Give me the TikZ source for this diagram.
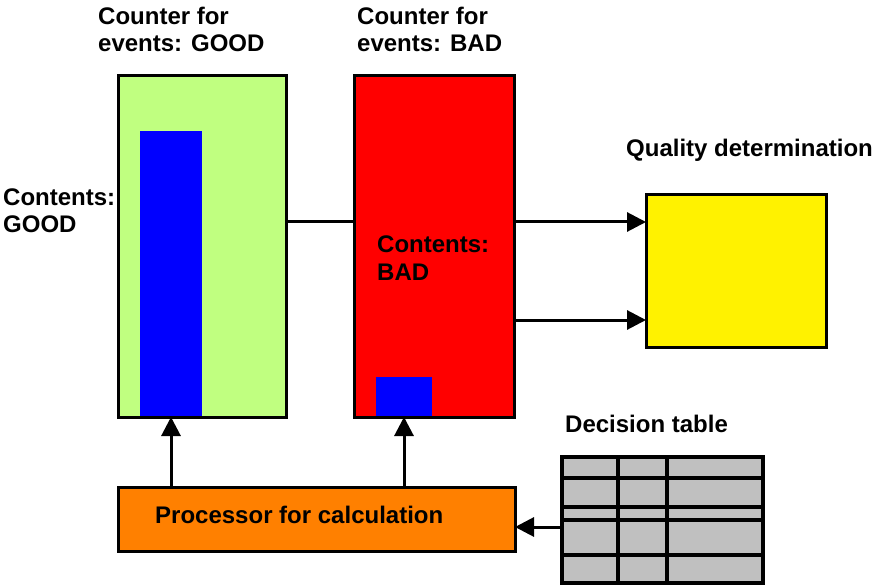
\documentclass[tikz,border=0pt]{standalone}
\usepackage{fontspec}
\setmainfont{Liberation Sans}
\usetikzlibrary{arrows.meta,calc}
\definecolor{goodgreen}{RGB}{192,255,128}
\definecolor{procorange}{RGB}{255,128,0}
\definecolor{tablegray}{RGB}{192,192,192}
\tikzset{
  panel/.style={draw=black, line width=3pt, inner sep=0pt, outer sep=0pt, anchor=north west},
  bar/.style={fill=blue, draw=none, inner sep=0pt, outer sep=0pt, anchor=south west},
  lbl/.style={font=\bfseries\fontsize{24}{27}\selectfont, inner sep=0pt, anchor=base west},
  conn/.style={line width=3pt},
  arr/.style={line width=3pt, -{Triangle[length=19pt,width=19pt]}},
  grid/.style={line width=4pt}
}
\begin{document}
\begin{tikzpicture}[x=1pt,y=-1pt]
\useasboundingbox (0,0) rectangle (877,585);

% counter boxes
\node[panel, fill=goodgreen, minimum width=168pt, minimum height=341pt] (green) at (118,76) {};
\node[panel, fill=red, minimum width=160pt, minimum height=341pt] (red) at (354,76) {};
\node[bar, minimum width=62pt, minimum height=284pt] (gbar) at (140,415.5) {};
\node[bar, minimum width=56pt, minimum height=39pt] (rbar) at (376,415.5) {};

% quality determination
\node[panel, fill=yellow, minimum width=180pt, minimum height=152pt] (yellow) at (646,195) {};

% processor
\node[panel, fill=procorange, minimum width=397pt, minimum height=64pt] (proc) at (118,487) {};

% decision table
\node[panel, fill=tablegray, line width=4pt, minimum width=201pt, minimum height=126pt] (table) at (562,457) {};
\foreach \yy in {478,507,520,555} \draw[grid] (table.west |- 0,\yy) -- (table.east |- 0,\yy);
\foreach \xx in {618,667} \draw[grid] (table.north -| \xx,0) -- (table.south -| \xx,0);

% labels
\node[lbl] (cg1) at (98,25) {Counter for};
\node[lbl] (cg2) at (98,52) {events: GOOD};
\node[lbl] (cb1) at (357,25) {Counter for};
\node[lbl] (cb2) at (357,52) {events: BAD};
\node[lbl] (tg1) at (3,206) {Contents:};
\node[lbl] (tg2) at (3,233) {GOOD};
\node[lbl] (tb1) at (377,252) {Contents:};
\node[lbl] (tb2) at (377,280) {BAD};
\node[lbl] (ql) at (626,157) {Quality determination};
\node[lbl] (dl) at (565,432) {Decision table};
\node[lbl] (pl) at (155,523) {Processor for calculation};

% connectors
\coordinate (qa) at ([yshift=49pt]yellow.west);
\coordinate (qb) at ([yshift=-49pt]yellow.west);
\draw[conn] (green.east |- qa) -- (red.west |- qa);
\draw[arr] (red.east |- qa) -- (qa);
\draw[arr] (red.east |- qb) -- (qb);
\draw[arr] (proc.north -| gbar.south) -- (green.south -| gbar.south);
\draw[arr] (proc.north -| rbar.south) -- (red.south -| rbar.south);
\coordinate (tin) at (table.west |- 0,527);
\draw[arr] (tin) -- (proc.east |- tin);
\end{tikzpicture}
\end{document}
